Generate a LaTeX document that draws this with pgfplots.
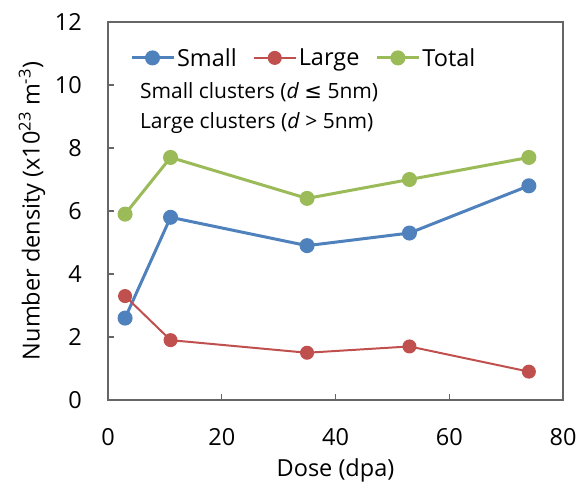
\documentclass[border=0pt]{standalone}
\usepackage{pgfplots}
\pgfplotsset{compat=1.18}
\usepackage{fontspec}
\setmainfont{Open Sans}
\newfontfamily\symfont{DejaVu Sans}
\definecolor{cblue}{HTML}{4F81BD}
\definecolor{cred}{HTML}{C0504D}
\definecolor{cgreen}{HTML}{9BBB59}
\begin{document}
\begin{tikzpicture}
\useasboundingbox (-108pt,-85pt) rectangle (476pt,400pt);
\begin{axis}[
  scale only axis, width=455pt, height=378pt,
  xmin=0, xmax=80, ymin=0, ymax=12,
  xtick={0,20,...,80}, ytick={0,2,...,12},
  tick align=inside, xtick pos=bottom, ytick pos=left,
  major tick length=6pt,
  axis line style={black!60, line width=1.2pt},
  tick style={black!60, line width=1.2pt},
  /pgf/number format/assume math mode=true,
  tick label style={font=\fontsize{23.5}{28}\selectfont, inner sep=0pt},
  xticklabel style={anchor=center, yshift=-37pt},
  yticklabel style={anchor=east, xshift=-26pt},
  label style={font=\fontsize{23.5}{28}\selectfont},
  xlabel={Dose (dpa)},
  ylabel={Number density (x10\textsuperscript{23} m\textsuperscript{-3})},
  xlabel style={at={(axis description cs:0.5,-0.185)}, anchor=center},
  ylabel style={at={(axis description cs:-0.167,0.5)}, rotate=0, anchor=center},
  legend style={at={(axis description cs:0.048,0.905)}, anchor=west, draw=none, fill=none,
    font=\fontsize{23.5}{28}\selectfont, inner sep=0pt,
    nodes={inner sep=2pt},
    /tikz/every even column/.append style={column sep=14pt}},
  legend columns=3,
  legend image code/.code={\draw[mark repeat=2,mark phase=2,#1] plot coordinates {(0pt,0pt) (21pt,0pt) (42pt,0pt)};},
]
\addplot[cblue, line width=3pt, mark=*, mark size=6pt, mark options={draw=none, fill=cblue}]
  coordinates {(3,2.6) (11,5.8) (35,4.9) (53,5.3) (74,6.8)};
\addlegendentry{Small}
\addplot[cred, line width=2pt, mark=*, mark size=6pt, mark options={draw=none, fill=cred}]
  coordinates {(3,3.3) (11,1.9) (35,1.5) (53,1.7) (74,0.9)};
\addlegendentry{Large}
\addplot[cgreen, line width=3pt, mark=*, mark size=6pt, mark options={draw=none, fill=cgreen}]
  coordinates {(3,5.9) (11,7.7) (35,6.4) (53,7.0) (74,7.7)};
\addlegendentry{Total}
\node[anchor=west, inner sep=0pt, font=\fontsize{21}{25}\selectfont] at (axis cs:5.6,9.78) {Small clusters (\textit{d} {\symfont ≤} 5nm)};
\node[anchor=west, inner sep=0pt, font=\fontsize{21}{25}\selectfont] at (axis cs:5.6,8.79) {Large clusters (\textit{d} > 5nm)};
\end{axis}
\end{tikzpicture}
\end{document}
